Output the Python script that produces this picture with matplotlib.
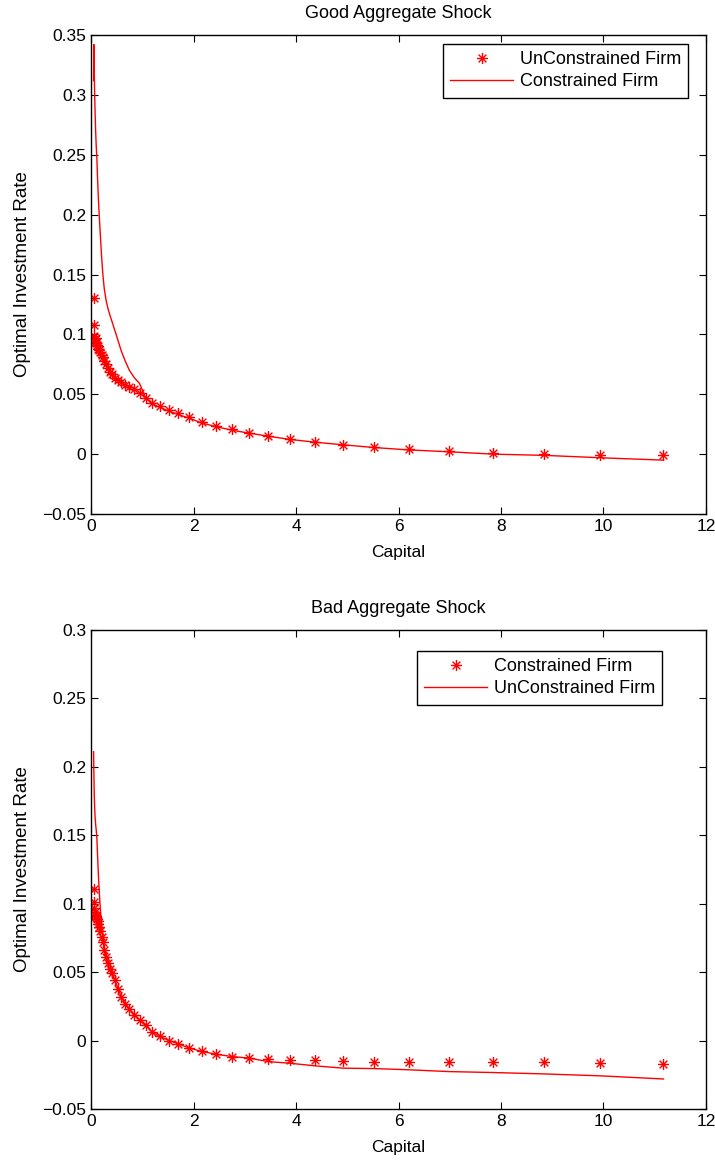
import matplotlib.pyplot as plt
from matplotlib.path import Path

plt.rcParams['font.family'] = ['Liberation Sans', 'DejaVu Sans']

# capital grid
capital = [0.05, 0.056, 0.063, 0.071, 0.08, 0.09, 0.101, 0.114, 0.128, 0.144,
           0.162, 0.182, 0.205, 0.231, 0.259, 0.292, 0.328, 0.369, 0.415, 0.467,
           0.526, 0.592, 0.665, 0.749, 0.842, 0.947, 1.066, 1.199, 1.349, 1.517,
           1.707, 1.92, 2.16, 2.44, 2.75, 3.09, 3.46, 3.88, 4.37, 4.92,
           5.53, 6.21, 6.98, 7.85, 8.84, 9.93, 11.17]

# good shock
good_unconstrained = [0.130, 0.108, 0.099, 0.096, 0.094, 0.097, 0.093, 0.091, 0.090, 0.088,
                      0.087, 0.085, 0.083, 0.081, 0.078, 0.075, 0.072, 0.069, 0.067, 0.064,
                      0.062, 0.060, 0.058, 0.056, 0.054, 0.051, 0.047, 0.043, 0.040, 0.037,
                      0.034, 0.031, 0.027, 0.0236, 0.021, 0.018, 0.0153, 0.0125, 0.0103, 0.008,
                      0.0056, 0.004, 0.0025, 0.001, 0.0, -0.0003, -0.0003]
good_constrained = [0.312, 0.342, 0.320, 0.300, 0.285, 0.270, 0.258, 0.247, 0.230, 0.213,
                    0.198, 0.183, 0.166, 0.150, 0.138, 0.129, 0.122, 0.116, 0.110, 0.103,
                    0.095, 0.086, 0.078, 0.070, 0.064, 0.059, 0.047, 0.042, 0.039, 0.036,
                    0.033, 0.030, 0.026, 0.023, 0.020, 0.0175, 0.015, 0.0123, 0.010, 0.0078,
                    0.0055, 0.0035, 0.002, 0.0, -0.001, -0.003, -0.005]

# bad shock
bad_markers = [0.111, 0.101, 0.097, 0.094, 0.092, 0.090, 0.091, 0.089, 0.087, 0.085,
               0.083, 0.080, 0.076, 0.072, 0.066, 0.061, 0.057, 0.052, 0.049, 0.044,
               0.038, 0.032, 0.027, 0.023, 0.019, 0.015, 0.011, 0.006, 0.003, 0.0,
               -0.0025, -0.0055, -0.0073, -0.010, -0.0117, -0.0129, -0.0136, -0.0141, -0.0146, -0.0151,
               -0.0154, -0.0154, -0.0154, -0.0156, -0.0158, -0.0161, -0.0171]
bad_line = [0.211, 0.195, 0.180, 0.170, 0.163, 0.158, 0.154, 0.148, 0.135, 0.121,
            0.108, 0.096, 0.085, 0.076, 0.068, 0.061, 0.057, 0.052, 0.049, 0.044,
            0.038, 0.032, 0.027, 0.023, 0.019, 0.015, 0.011, 0.006, 0.003, 0.0,
            -0.0025, -0.0055, -0.008, -0.010, -0.0117, -0.0129, -0.0154, -0.0166, -0.0185, -0.0202,
            -0.0205, -0.0214, -0.0227, -0.0234, -0.0244, -0.0258, -0.0281]

# matlab style asterisk
star = Path([(0, -1), (0, 1), (-1, 0), (1, 0), (-0.7, -0.7), (0.7, 0.7), (-0.7, 0.7), (0.7, -0.7)],
            [Path.MOVETO, Path.LINETO] * 4)

fig = plt.figure(figsize=(7.15, 11.64), dpi=100)
ax1 = fig.add_axes([0.1273, 0.5584, 0.8601, 0.4115])
ax2 = fig.add_axes([0.1273, 0.0473, 0.8601, 0.4115])


def style(ax, title, ylim, yticks):
    ax.set_xlim(0, 12)
    ax.set_ylim(*ylim)
    ax.set_xticks(range(0, 13, 2))
    ax.set_yticks(yticks)
    ax.set_yticklabels(['\u22120.05' if abs(t + 0.05) < 1e-9 else ('0' if t == 0 else f'{t:g}') for t in yticks])
    ax.tick_params(direction='in', top=True, right=True, labelsize=12.5, length=5)
    ax.set_title(title, fontsize=13, pad=12)
    ax.set_xlabel('Capital', fontsize=12.5, labelpad=8)
    ax.set_ylabel('Optimal Investment Rate', fontsize=13.5, labelpad=8)
    for s in ax.spines.values():
        s.set_linewidth(1)


leg_kw = dict(loc='upper right', borderaxespad=0, fontsize=13, fancybox=False,
              edgecolor='black', framealpha=1, handlelength=3.5, handletextpad=0.35,
              borderpad=0.4, labelspacing=0.28)

yt1 = [-0.05, 0, 0.05, 0.1, 0.15, 0.2, 0.25, 0.3, 0.35]
ax1.plot(capital, good_unconstrained, linestyle='none', marker=star, markersize=8,
         markeredgecolor='red', markeredgewidth=1, color='red', label='UnConstrained Firm')
ax1.plot(capital, good_constrained, color='red', linewidth=1, label='Constrained Firm')
style(ax1, 'Good Aggregate Shock', (-0.05, 0.35), yt1)
ax1.legend(bbox_to_anchor=(0.9707, 0.981), **leg_kw)

yt2 = [-0.05, 0, 0.05, 0.1, 0.15, 0.2, 0.25, 0.3]
ax2.plot(capital, bad_markers, linestyle='none', marker=star, markersize=8,
         markeredgecolor='red', markeredgewidth=1, color='red', label='Constrained Firm')
ax2.plot(capital, bad_line, color='red', linewidth=1, label='UnConstrained Firm')
style(ax2, 'Bad Aggregate Shock', (-0.05, 0.3), yt2)
ax2.legend(bbox_to_anchor=(0.9285, 0.956), **leg_kw)

fig.savefig('out.png', dpi=100)
